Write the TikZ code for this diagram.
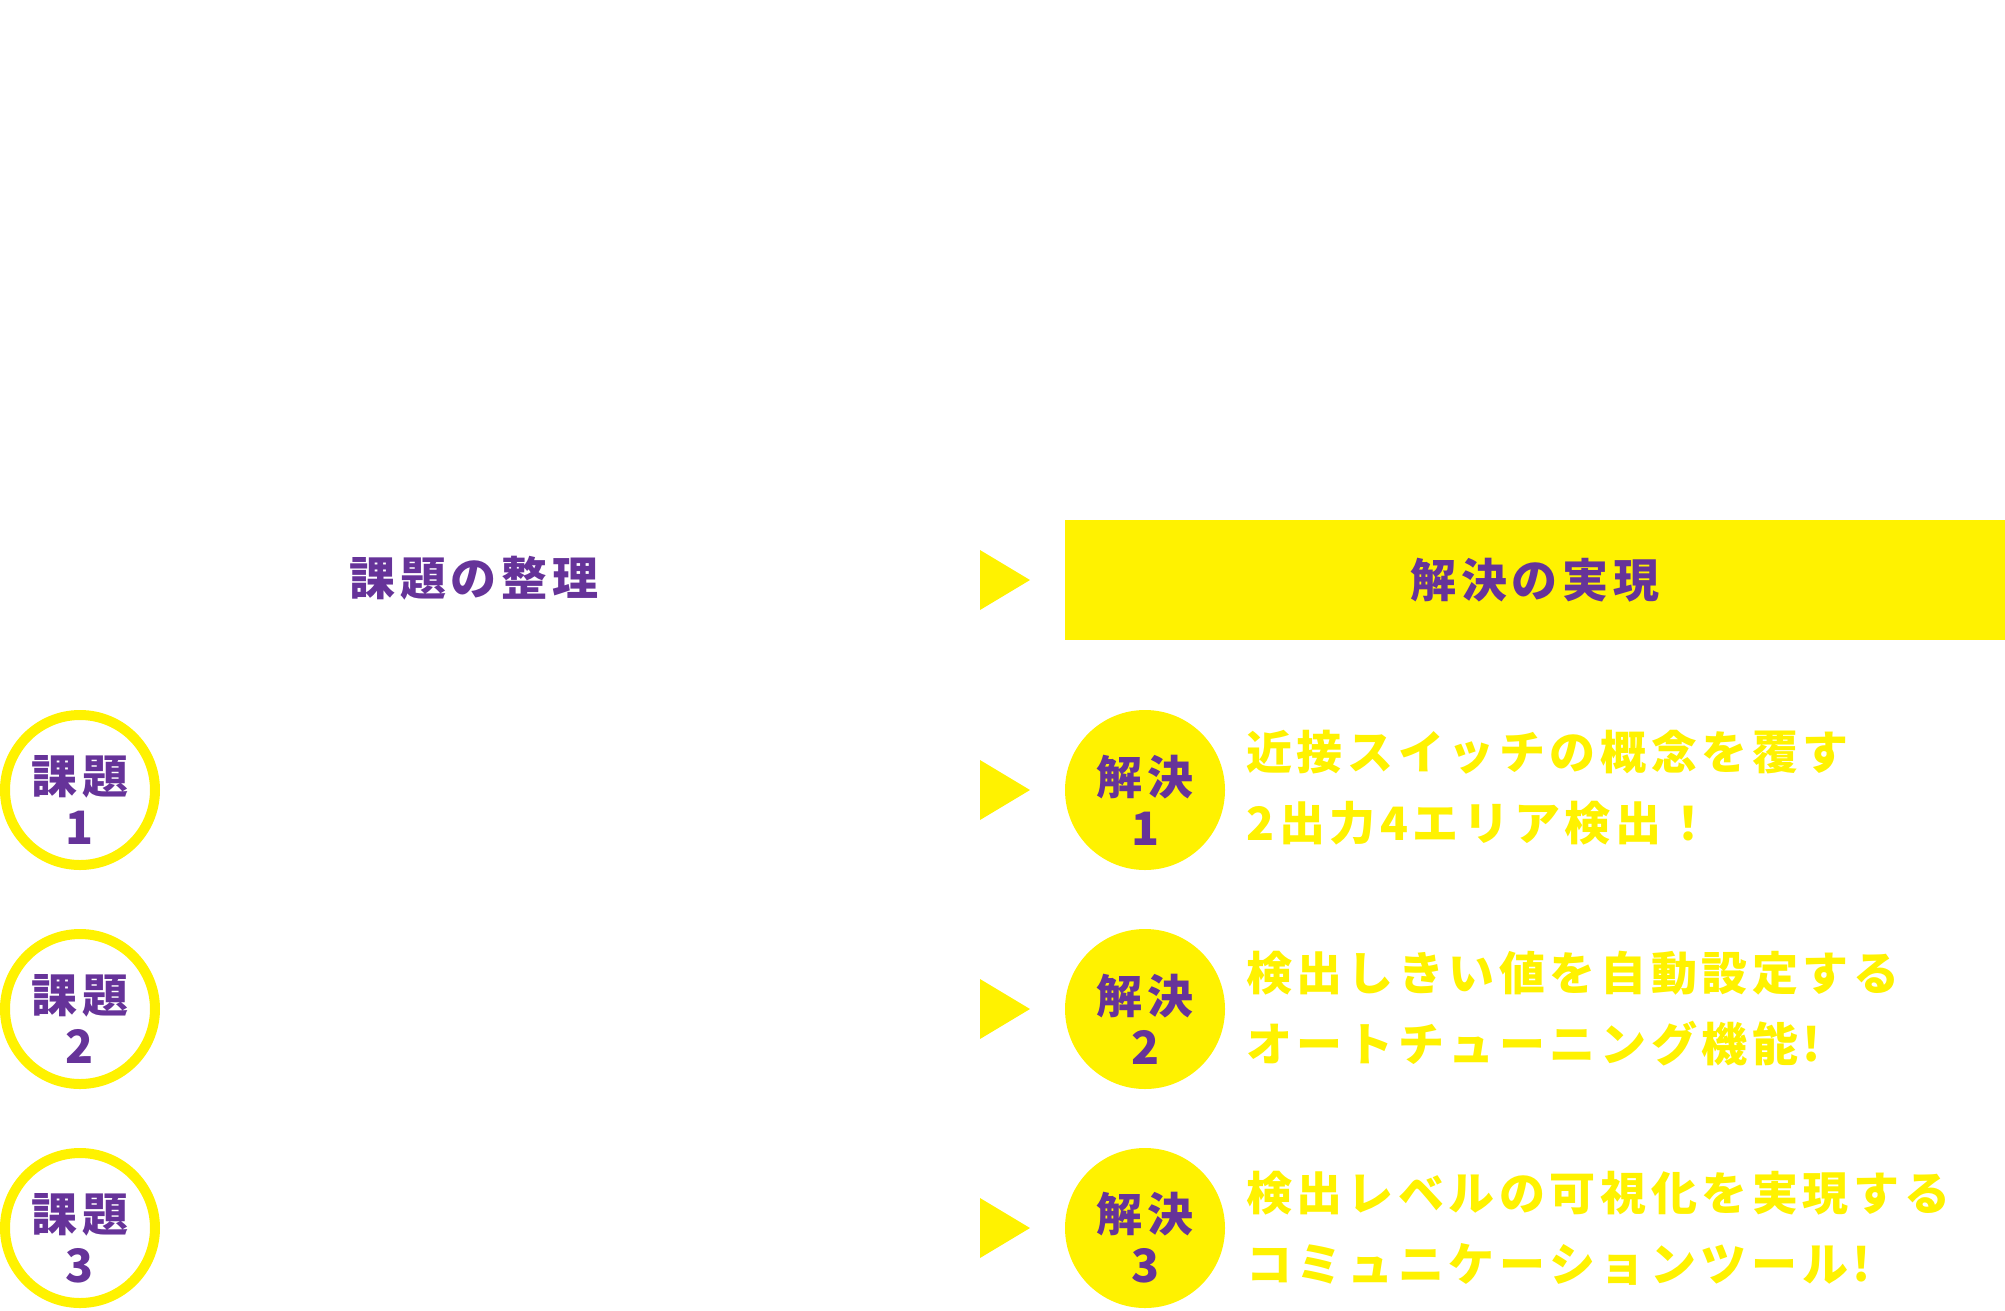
\documentclass[tikz,border=0pt]{standalone}
\usepackage{fontspec}
\setmainfont{Noto Sans CJK JP}[LetterSpace=10]
\usetikzlibrary{positioning}
\definecolor{kpurple}{HTML}{663399}
\definecolor{kyellow}{HTML}{FFF200}

\begin{document}
\begin{tikzpicture}[x=1pt, y=-1pt,
  head/.style={font=\bfseries\fontsize{46}{50}\selectfont, text=kpurple, inner sep=0pt},
  issue/.style={circle, draw=kyellow, line width=10pt, minimum size=150pt, inner sep=0pt},
  answer/.style={circle, fill=kyellow, minimum size=160pt, inner sep=0pt},
  tag/.style={align=center, inner sep=0pt, text=kpurple, font=\bfseries\fontsize{46}{51}\selectfont},
  point/.style={anchor=west, align=left, inner sep=0pt, text=kyellow, font=\bfseries\fontsize{46}{71}\selectfont}]
\useasboundingbox (0,0) rectangle (2005,1310);

\node[head] (issue head) at (474,578) {課題の整理};
\node[head, fill=kyellow, minimum width=940pt, minimum height=120pt] (answer head) at (1535,580) {解決の実現};

\foreach \y in {580,790,1009,1228}
  \fill[kyellow] (980,\y-30) -- (1030,\y) -- (980,\y+30) -- cycle;

\node[issue] (issue1) at (80,790) {};
\node[issue] (issue2) at (80,1009) {};
\node[issue] (issue3) at (80,1228) {};
\node[tag] (issue1 tag) at ([yshift=-10pt]issue1.center) {課題\\1};
\node[tag] (issue2 tag) at ([yshift=-10pt]issue2.center) {課題\\2};
\node[tag] (issue3 tag) at ([yshift=-10pt]issue3.center) {課題\\3};

\node[answer] (answer1) at (1145,790) {};
\node[answer] (answer2) at (1145,1009) {};
\node[answer] (answer3) at (1145,1228) {};
\node[tag] (answer1 tag) at ([yshift=-10pt]answer1.center) {解決\\1};
\node[tag] (answer2 tag) at ([yshift=-10pt]answer2.center) {解決\\2};
\node[tag] (answer3 tag) at ([yshift=-10pt]answer3.center) {解決\\3};

\node[point, right=21pt of answer1, yshift=2pt] (point1) {近接スイッチの概念を覆す\\2出力4エリア検出！};
\node[point, right=21pt of answer2] (point2) {検出しきい値を自動設定する\\オートチューニング機能!};
\node[point, right=21pt of answer3] (point3) {検出レベルの可視化を実現する\\コミュニケーションツール!};

\end{tikzpicture}
\end{document}
